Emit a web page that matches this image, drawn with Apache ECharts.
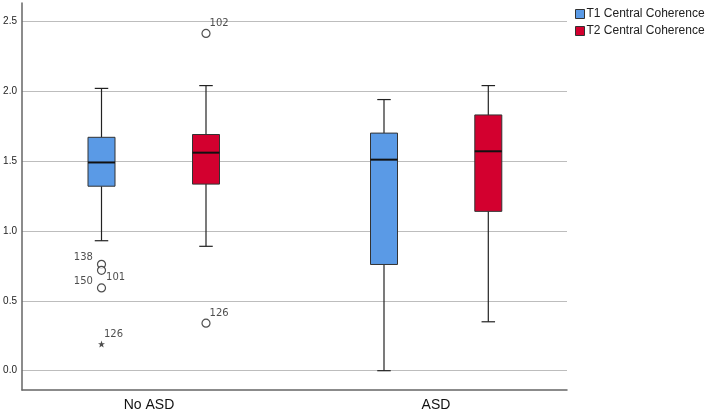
<!DOCTYPE html>
<html>
<head>
<meta charset="utf-8">
<script src="https://cdn.jsdelivr.net/npm/echarts@6/dist/echarts.min.js"></script>
<style>
  html, body { margin: 0; padding: 0; background: #fff; }
  #chart { width: 709px; height: 412px; }
</style>
</head>
<body>
<div id="chart"></div>
<script>
// groups on the x axis
var categories = ['No ASD', 'ASD'];
var seriesNames = ['T1 Central Coherence', 'T2 Central Coherence'];
var yTicks = [0, 0.5, 1.0, 1.5, 2.0, 2.5];

// [category index, min, Q1, median, Q3, max]
var t1Boxes = [
  [0, 0.93, 1.32, 1.49, 1.67, 2.02],
  [1, 0.00, 0.76, 1.51, 1.70, 1.94]
];
var t2Boxes = [
  [0, 0.89, 1.335, 1.56, 1.69, 2.04],
  [1, 0.35, 1.14, 1.57, 1.83, 2.04]
];

// outliers: [category index, value, case id, kind]
var t1Outliers = [
  [0, 0.761, '138', 'circle'],
  [0, 0.718, '101', 'circle'],
  [0, 0.592, '150', 'circle'],
  [0, 0.191, '126', 'star']
];
var t2Outliers = [
  [0, 2.413, '102', 'circle'],
  [0, 0.340, '126', 'circle']
];

var colors = ['#5a9ae6', '#d3002f'];

var chart = echarts.init(document.getElementById('chart'));

function boxRenderer(color) {
  return function (params, api) {
    var x = api.coord([api.value(0), 0])[0];
    var yMin = api.coord([api.value(0), api.value(1)])[1];
    var yQ1 = api.coord([api.value(0), api.value(2)])[1];
    var yMed = api.coord([api.value(0), api.value(3)])[1];
    var yQ3 = api.coord([api.value(0), api.value(4)])[1];
    var yMax = api.coord([api.value(0), api.value(5)])[1];
    var w = 27, cap = 13.5;
    var line = { stroke: '#222', lineWidth: 1.2 };
    return {
      type: 'group',
      children: [
        { type: 'line', shape: { x1: x, y1: yMax, x2: x, y2: yQ3 }, style: line },
        { type: 'line', shape: { x1: x, y1: yQ1, x2: x, y2: yMin }, style: line },
        { type: 'line', shape: { x1: x - cap / 2, y1: yMax, x2: x + cap / 2, y2: yMax }, style: line },
        { type: 'line', shape: { x1: x - cap / 2, y1: yMin, x2: x + cap / 2, y2: yMin }, style: line },
        { type: 'rect', shape: { x: x - w / 2, y: yQ3, width: w, height: yQ1 - yQ3 },
          style: { fill: color, stroke: '#333', lineWidth: 1 } },
        { type: 'line', shape: { x1: x - w / 2, y1: yMed, x2: x + w / 2, y2: yMed },
          style: { stroke: '#111', lineWidth: 2 } }
      ]
    };
  };
}

// label placement for each case id
var labelPlace = {
  '138': ['left', [-1, -7]],
  '150': ['left', [-1, -7]],
  '101': ['right', [-3, 7]],
  '126': ['right', [-4, -10]],
  '102': ['right', [-4, -10]]
};

function outlierData(list) {
  return list.map(function (d) {
    var p = labelPlace[d[2]];
    var star = d[3] === 'star';
    return {
      value: [d[0], d[1]],
      name: d[2],
      symbol: star ? 'path://M0,-5L1.2,-1.6L4.8,-1.6L1.9,0.6L3,4L0,2L-3,4L-1.9,0.6L-4.8,-1.6L-1.2,-1.6Z' : 'circle',
      symbolSize: star ? 7 : 8,
      itemStyle: star ? { color: '#222', borderWidth: 0 } : { color: '#fff', borderColor: '#222', borderWidth: 1.2 },
      label: { show: true, position: p[0], offset: p[1], formatter: d[2], fontSize: 10, color: '#222', distance: 3 }
    };
  });
}

var hidden = { show: false };

var option = {
  backgroundColor: '#fff',
  animation: false,
  textStyle: { fontFamily: 'DejaVu Sans' },
  legend: {
    orient: 'vertical',
    left: 570,
    top: 3,
    itemWidth: 9,
    itemHeight: 9,
    itemGap: 5,
    icon: 'rect',
    data: seriesNames,
    itemStyle: { borderColor: '#333', borderWidth: 1 },
    textStyle: { fontSize: 12, color: '#222', fontFamily: 'Liberation Sans', padding: [0, 0, 0, -3] }
  },
  grid: [
    // frame
    { left: 22, right: 142, top: 3, bottom: 22 },
    // gridlines + y labels
    { left: 22, right: 142, top: 21.3, bottom: 41.3 },
    // category labels
    { left: 149, right: 273, top: 21.3, bottom: 22 },
    // T1 boxes
    { left: 101.5, right: 325, top: 21.3, bottom: 41.3 },
    // T2 boxes
    { left: 206, right: 220.7, top: 21.3, bottom: 41.3 }
  ],
  xAxis: [
    { gridIndex: 0, type: 'value', min: 0, max: 1, axisLine: { show: true, lineStyle: { color: '#666', width: 1.5 } },
      axisTick: hidden, axisLabel: hidden, splitLine: hidden },
    { gridIndex: 1, type: 'value', min: 0, max: 1, axisLine: hidden, axisTick: hidden, axisLabel: hidden, splitLine: hidden },
    { gridIndex: 2, type: 'category', data: categories, boundaryGap: false, axisLine: hidden, axisTick: hidden,
      splitLine: hidden, axisLabel: { margin: 8, fontSize: 14, color: '#111', fontFamily: 'Liberation Sans' } },
    { gridIndex: 3, type: 'category', data: categories, boundaryGap: false, show: false },
    { gridIndex: 4, type: 'category', data: categories, boundaryGap: false, show: false }
  ],
  yAxis: [
    { gridIndex: 0, type: 'value', min: 0, max: 1, axisLine: { show: true, lineStyle: { color: '#666', width: 1.5 } },
      axisTick: hidden, axisLabel: hidden, splitLine: hidden },
    { gridIndex: 1, type: 'value', min: yTicks[0], max: yTicks[yTicks.length - 1], interval: 0.5,
      axisLine: hidden, axisTick: hidden,
      splitLine: { show: true, lineStyle: { color: '#bdbdbd', width: 1.2 } },
      axisLabel: { margin: 5, fontSize: 10, color: '#222', fontFamily: 'Liberation Sans',
        formatter: function (v) { return v.toFixed(1); } } },
    { gridIndex: 2, type: 'value', min: 0, max: 1, show: false },
    { gridIndex: 3, type: 'value', min: 0, max: 2.5, show: false },
    { gridIndex: 4, type: 'value', min: 0, max: 2.5, show: false }
  ],
  series: [
    {
      name: seriesNames[0], type: 'custom', xAxisIndex: 3, yAxisIndex: 3,
      itemStyle: { color: colors[0] },
      encode: { x: 0, y: [1, 2, 3, 4, 5] },
      renderItem: boxRenderer(colors[0]),
      data: t1Boxes
    },
    {
      name: seriesNames[1], type: 'custom', xAxisIndex: 4, yAxisIndex: 4,
      itemStyle: { color: colors[1] },
      encode: { x: 0, y: [1, 2, 3, 4, 5] },
      renderItem: boxRenderer(colors[1]),
      data: t2Boxes
    },
    {
      name: 'T1 outliers', type: 'scatter', xAxisIndex: 3, yAxisIndex: 3,
      data: outlierData(t1Outliers)
    },
    {
      name: 'T2 outliers', type: 'scatter', xAxisIndex: 4, yAxisIndex: 4,
      data: outlierData(t2Outliers)
    }
  ]
};

chart.setOption(option);
</script>
</body>
</html>
